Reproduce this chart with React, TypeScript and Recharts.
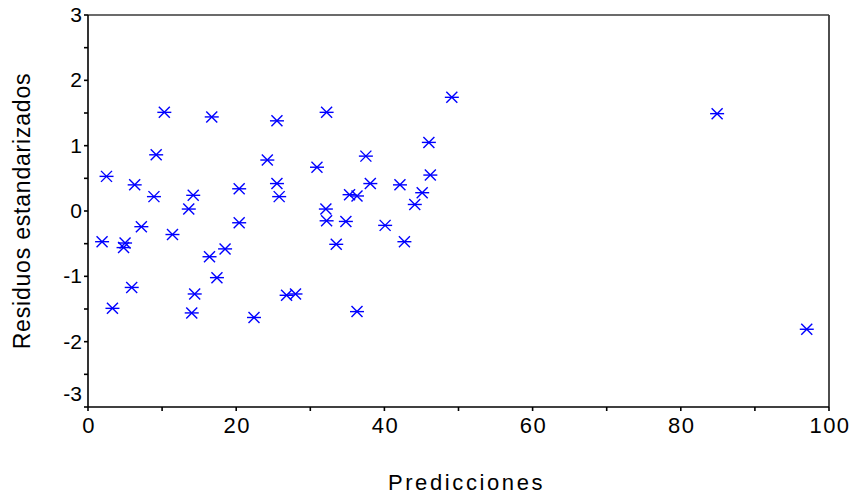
import { ScatterChart, Scatter, XAxis, YAxis, ReferenceLine } from 'recharts';

const predicciones = [
  1.9, 2.5, 3.3, 4.8, 5.0, 5.9, 6.3, 7.2, 8.9, 9.2,
  10.3, 11.4, 13.6, 14.0, 14.2, 14.4, 16.4, 16.7, 17.4, 18.5,
  20.4, 20.4, 22.4, 24.2, 25.5, 25.5, 25.8, 26.8, 28.0, 30.9,
  32.1, 32.2, 32.2, 33.5, 34.8, 35.3, 36.3, 36.3, 37.5, 38.1,
  40.1, 42.1, 42.7, 44.1, 45.1, 46.0, 46.2, 49.1, 84.9, 97.0,
];
const residuos = [
  -0.47, 0.53, -1.49, -0.56, -0.49, -1.17, 0.4, -0.24, 0.22, 0.86,
  1.51, -0.36, 0.03, -1.56, 0.24, -1.27, -0.7, 1.44, -1.02, -0.58,
  0.34, -0.18, -1.63, 0.78, 1.38, 0.42, 0.22, -1.29, -1.27, 0.67,
  0.03, 1.51, -0.15, -0.51, -0.16, 0.25, 0.23, -1.54, 0.84, 0.42,
  -0.22, 0.4, -0.47, 0.1, 0.28, 1.05, 0.55, 1.74, 1.49, -1.81,
];
const xTicks = [0, 10, 20, 30, 40, 50, 60, 70, 80, 90, 100];
const yTicks = [-3, -2.5, -2, -1.5, -1, -0.5, 0, 0.5, 1, 1.5, 2, 2.5, 3];

const puntos = predicciones.map((x, i) => ({ x, y: residuos[i] }));

const font = '"Liberation Sans", Arial, sans-serif';

function Asterisco(props: any) {
  const { cx, cy } = props;
  const h = 7;
  const d = 5.5;
  return (
    <g stroke="#0000ff" strokeWidth={1.4}>
      <line x1={cx - h} y1={cy} x2={cx + h} y2={cy} />
      <line x1={cx - d} y1={cy - d} x2={cx + d} y2={cy + d} />
      <line x1={cx - d} y1={cy + d} x2={cx + d} y2={cy - d} />
    </g>
  );
}

function YTick(props: any) {
  const { x, y, payload } = props;
  const v = payload.value;
  if (!Number.isInteger(v)) return null;
  const dy = v === -3 ? -6 : 7;
  return (
    <text x={x} y={y + dy} textAnchor="end" fontFamily={font} fontSize={21} fill="#000">
      {v}
    </text>
  );
}

function XTick(props: any) {
  const { x, y, payload } = props;
  const v = payload.value;
  if (v % 20 !== 0) return null;
  return (
    <text x={x + 1} y={y + 20} textAnchor="middle" fontFamily={font} fontSize={22} letterSpacing={1.5} fill="#000">
      {v}
    </text>
  );
}

export default function App() {
  return (
    <div style={{ position: 'absolute', left: 0, top: 0, background: '#fff' }}>
      <ScatterChart width={854} height={497} margin={{ top: 15, right: 25, bottom: 0, left: 0 }}>
        <XAxis
          type="number"
          dataKey="x"
          domain={[0, 100]}
          ticks={xTicks}
          interval={0}
          height={90}
          tickSize={4}
          stroke="#000"
          strokeWidth={1.6}
          tick={<XTick />}
          label={{
            content: ({ viewBox }: any) => (
              <text
                x={viewBox.x + viewBox.width / 2 + 8}
                y={viewBox.y + 83}
                textAnchor="middle"
                fontFamily={font}
                fontSize={22}
                letterSpacing={2.6}
                fill="#000"
              >
                Predicciones
              </text>
            ),
          }}
        />
        <YAxis
          type="number"
          dataKey="y"
          domain={[-3, 3]}
          ticks={yTicks}
          interval={0}
          width={88}
          tickSize={4}
          stroke="#000"
          strokeWidth={1.6}
          tick={<YTick />}
          label={{
            content: ({ viewBox }: any) => {
              const cx = viewBox.x + 30;
              const cy = viewBox.y + viewBox.height / 2;
              return (
                <text
                  x={cx}
                  y={cy}
                  transform={`rotate(-90 ${cx} ${cy})`}
                  textAnchor="middle"
                  fontFamily={font}
                  fontSize={23}
                  letterSpacing={0.8}
                  fill="#000"
                >
                  Residuos estandarizados
                </text>
              );
            },
          }}
        />
        <ReferenceLine y={3} stroke="#3a3a3a" strokeWidth={1.5} />
        <ReferenceLine x={100} stroke="#3a3a3a" strokeWidth={1.8} />
        <Scatter data={puntos} shape={<Asterisco />} isAnimationActive={false} />
      </ScatterChart>
    </div>
  );
}
